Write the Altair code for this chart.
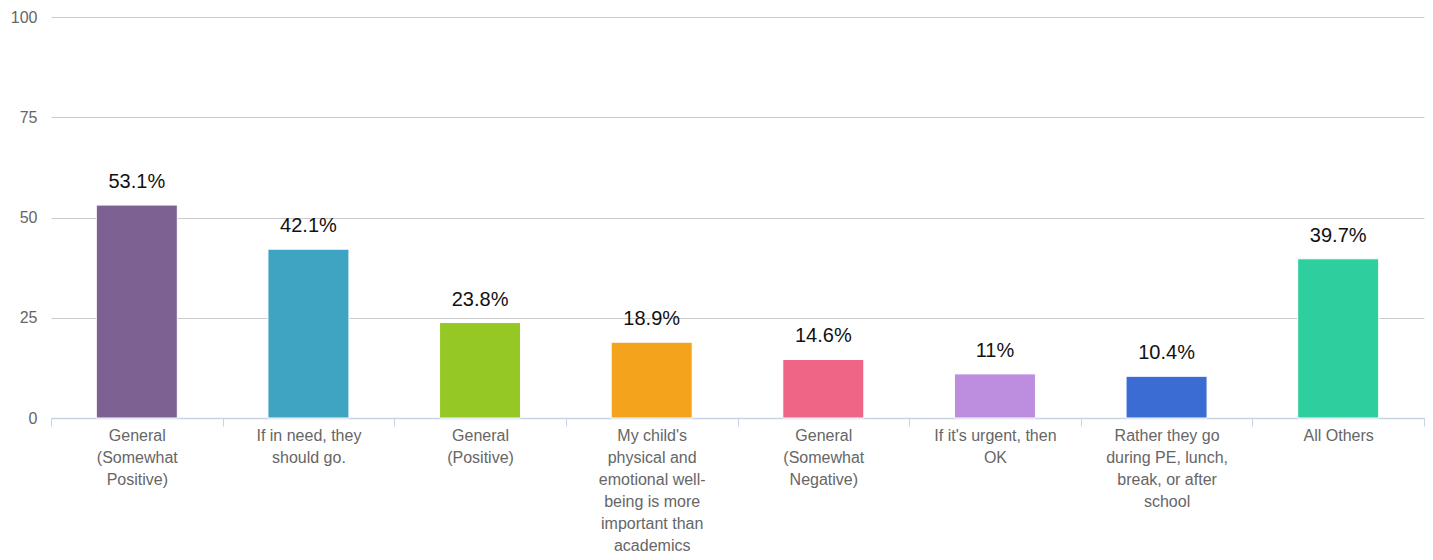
import altair as alt
import pandas as pd

categories = [
    "General (Somewhat Positive)",
    "If in need, they should go.",
    "General (Positive)",
    "My child's physical and emotional well-being is more important than academics",
    "General (Somewhat Negative)",
    "If it's urgent, then OK",
    "Rather they go during PE, lunch, break, or after school",
    "All Others",
]
wrapped = [
    "General|(Somewhat|Positive)",
    "If in need, they|should go.",
    "General|(Positive)",
    "My child's|physical and|emotional well-|being is more|important than|academics",
    "General|(Somewhat|Negative)",
    "If it's urgent, then|OK",
    "Rather they go|during PE, lunch,|break, or after|school",
    "All Others",
]
values = [53.1, 42.1, 23.8, 18.9, 14.6, 11, 10.4, 39.7]
colors = ["#7E6193", "#3FA3C2", "#95C824", "#F4A41C", "#EF6586", "#BD8EE0", "#3B6CD4", "#2ECF9E"]
y_ticks = [0, 25, 50, 75, 100]

df = pd.DataFrame({"category": categories, "label": wrapped, "value": values})

FONT = "Liberation Sans"

x = alt.X(
    "label:N",
    sort=wrapped,
    scale=alt.Scale(paddingInner=0, paddingOuter=0),
    axis=alt.Axis(
        title=None,
        labelAngle=0,
        labelExpr="split(datum.label, '|')",
        labelFont=FONT,
        labelFontSize=16,
        labelColor="#666666",
        labelLineHeight=22,
        labelLimit=300,
        labelPadding=1,
        labelBaseline="top",
        domainColor="#C8D4E6",
        domainWidth=1.5,
        tickColor="#C8D4E6",
        tickSize=8,
        tickBand="extent",
        grid=False,
    ),
)
y = alt.Y(
    "value:Q",
    scale=alt.Scale(domain=[0, 100], nice=False),
    axis=alt.Axis(
        title=None,
        values=y_ticks,
        domain=False,
        ticks=False,
        labelFont=FONT,
        labelFontSize=16,
        labelColor="#666666",
        labelPadding=14,
        gridColor="#CCCCCC",
        gridWidth=1,
    ),
)

bars = alt.Chart(df).mark_bar(
    width=alt.RelativeBandSize(0.472), stroke="white", strokeWidth=1
).encode(
    x=x,
    y=y,
    color=alt.Color("label:N", sort=wrapped, scale=alt.Scale(domain=wrapped, range=colors), legend=None),
)

text = alt.Chart(df).transform_calculate(
    txt="datum.value + '%'"
).mark_text(
    font=FONT, fontSize=20, color="#111111", baseline="alphabetic", dy=-17
).encode(
    x=alt.X("label:N", sort=wrapped),
    y=alt.Y("value:Q"),
    text="txt:N",
)

chart = alt.layer(bars, text).properties(
    width=1373,
    height=401,
    autosize=alt.AutoSizeParams(type="none"),
    padding={"left": 43, "top": 9, "right": 1, "bottom": 134},
).configure_view(stroke=None)

chart.save("out.html", embed_options={"renderer": "svg", "actions": False})
